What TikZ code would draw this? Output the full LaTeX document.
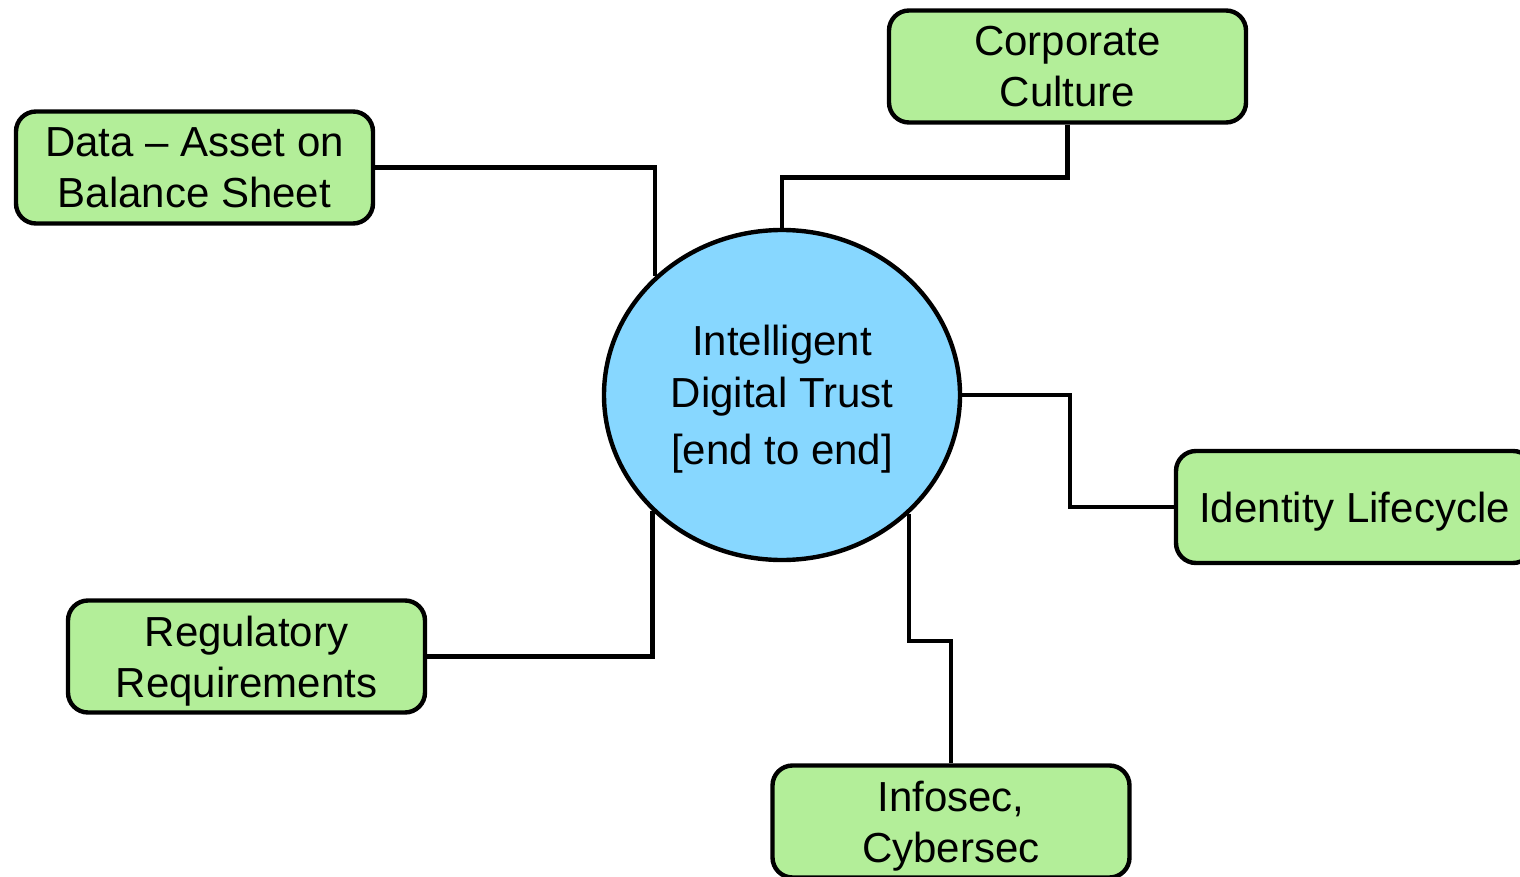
\documentclass[tikz,border=0pt]{standalone}
\usepackage{fontspec}
\setmainfont{Liberation Sans}
\usetikzlibrary{shapes.geometric}
\definecolor{boxgreen}{RGB}{179,238,153}
\definecolor{hubblue}{RGB}{135,215,255}
\begin{document}
\begin{tikzpicture}[x=0.5pt,y=-0.5pt,
  topic/.style={draw=black, line width=2.2pt, fill=boxgreen, rounded corners=10pt,
    minimum width=178.5pt, minimum height=56pt, inner sep=0pt, align=center,
    text depth=0pt, font=\fontsize{21}{25.5}\selectfont},
  hubnode/.style={ellipse, draw=black, line width=2.2pt, fill=hubblue,
    minimum width=178pt, minimum height=165pt, inner sep=0pt, align=center,
    text depth=-1pt, font=\fontsize{21}{26}\selectfont},
  link/.style={draw=black, line width=2.2pt}]
\useasboundingbox (0,0) rectangle (1520,877);
\clip (0,0) rectangle (1520,877);

\node[hubnode] (hub) at (782,395) {Intelligent\\Digital Trust\\[2.5pt]{[end to end]}};
\node[topic] (data) at (194.5,167.5) {Data -- Asset on\\Balance Sheet};
\node[topic] (corp) at (1067.5,66.5) {Corporate\\Culture};
\node[topic] (reg) at (246.5,656.5) {Regulatory\\Requirements};
\node[topic] (id) at (1354.5,507) {Identity Lifecycle};
\node[topic] (info) at (951,821.5) {Infosec,\\Cybersec};

\draw[link] (data.east) -| (hub.137.7);
\draw[link] (reg.east) -| (hub.222.3);
\draw[link] (corp.south) -- ++(0,53) -| (hub.north);
\draw[link] (hub.east) -- ++(108,0) |- (id.west);
\draw[link] (hub.317.7) -- ++(0,127.4) -| (info.north);
\end{tikzpicture}
\end{document}
